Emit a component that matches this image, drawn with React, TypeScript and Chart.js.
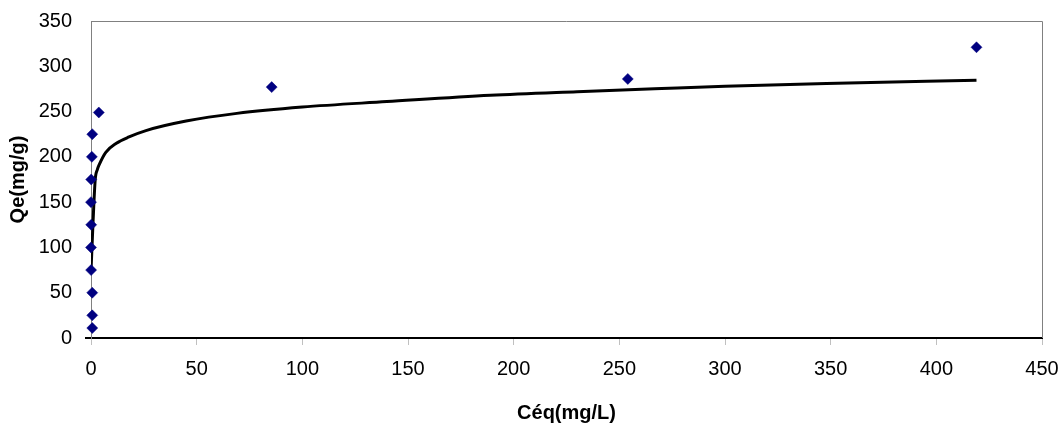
import React, { useEffect, useRef } from "react";
import { Chart, registerables } from "chart.js";

Chart.register(...registerables);

// Measured points (Céq mg/L, Qe mg/g)
const measuredX = [0.6, 0.6, 0.6, 0.05, 0.0, 0.1, 0.0, 0.1, 0.4, 0.6, 3.7, 85.5, 254, 419];
const measuredY = [11, 25, 50, 75, 100, 125, 150, 175, 200, 225, 249, 277, 286, 321];

// Fitted model curve
const fitX = [0.02, 1, 2, 3, 4, 7, 12, 18, 26, 45, 69, 100, 140, 189, 230, 270, 300, 348, 419];
const fitY = [75, 130, 175, 186, 192, 205, 215, 222, 229, 239.5, 248, 255, 261, 268, 272, 275.5, 278, 281, 284.5];

const xTicks = [0, 50, 100, 150, 200, 250, 300, 350, 400, 450];
const yTicks = [0, 50, 100, 150, 200, 250, 300, 350];

const FONT = "'Liberation Sans', Arial, sans-serif";

export default function App() {
  const ref = useRef<HTMLCanvasElement | null>(null);

  useEffect(() => {
    if (!ref.current) return;
    const frame = {
      id: "frame",
      beforeDatasetsDraw(chart: any) {
        const { ctx, chartArea } = chart;
        ctx.save();
        ctx.strokeStyle = "#808080";
        ctx.lineWidth = 1;
        ctx.beginPath();
        ctx.moveTo(chartArea.left, chartArea.top + 0.5);
        ctx.lineTo(chartArea.right + 0.5, chartArea.top + 0.5);
        ctx.lineTo(chartArea.right + 0.5, chartArea.bottom);
        ctx.stroke();
        ctx.restore();
      },
    };
    const chart = new Chart(ref.current, {
      type: "scatter",
      data: {
        datasets: [
          {
            label: "Qe",
            data: measuredX.map((x, i) => ({ x, y: measuredY[i] })),
            pointStyle: "rectRot",
            pointRadius: 5.5,
            pointBackgroundColor: "#000080",
            pointBorderColor: "#000080",
            pointBorderWidth: 0.5,
            showLine: false,
            clip: false,
            order: 0,
          } as any,
          {
            label: "fit",
            data: fitX.map((x, i) => ({ x, y: fitY[i] })),
            showLine: true,
            borderColor: "#000000",
            borderWidth: 3,
            pointRadius: 0,
            cubicInterpolationMode: "monotone",
            order: 1,
          } as any,
        ],
      },
      options: {
        animation: false,
        responsive: false,
        devicePixelRatio: 1,
        layout: { padding: { top: 21, right: 20, left: 0, bottom: 0 } },
        plugins: { legend: { display: false }, tooltip: { enabled: false } },
        scales: {
          x: {
            type: "linear",
            min: 0,
            max: 450,
            afterBuildTicks: (s: any) => {
              s.ticks = xTicks.map((v) => ({ value: v }));
            },
            afterFit: (s: any) => {
              s.height = 87;
              s.paddingLeft = 0;
              s.paddingRight = 0;
            },
            ticks: { color: "#000", font: { family: FONT, size: 20 }, padding: 12 },
            grid: { drawOnChartArea: false, drawTicks: true, tickLength: 7, color: "#c0c0c0", lineWidth: 1 },
            border: { color: "#000", width: 2 },
            title: {
              display: true,
              text: "Céq(mg/L)",
              color: "#000",
              font: { family: FONT, size: 20, weight: "bold" },
              padding: { top: 0, bottom: 0 },
            },
          },
          y: {
            type: "linear",
            min: 0,
            max: 350,
            afterBuildTicks: (s: any) => {
              s.ticks = yTicks.map((v) => ({ value: v }));
            },
            afterFit: (s: any) => {
              s.width = 91;
              s.paddingTop = 0;
              s.paddingBottom = 0;
            },
            ticks: { color: "#000", font: { family: FONT, size: 20 }, padding: 13 },
            grid: {
              drawOnChartArea: false,
              drawTicks: true,
              tickLength: 6,
              lineWidth: 2,
              color: (c: any) => (c.tick && c.tick.value === 0 ? "#000" : "rgba(0,0,0,0)"),
            },
            border: { color: "#808080", width: 1 },
            title: {
              display: true,
              text: "Qe(mg/g)",
              color: "#000",
              font: { family: FONT, size: 20, weight: "bold" },
              padding: { top: 6, bottom: 0 },
            },
          },
        },
      },
      plugins: [frame],
    } as any);
    return () => chart.destroy();
  }, []);

  return (
    <div style={{ position: "absolute", left: 0, top: 0, width: 1062, height: 425, background: "#fff" }}>
      <canvas ref={ref} width={1062} height={425} style={{ width: 1062, height: 425 }} />
    </div>
  );
}
